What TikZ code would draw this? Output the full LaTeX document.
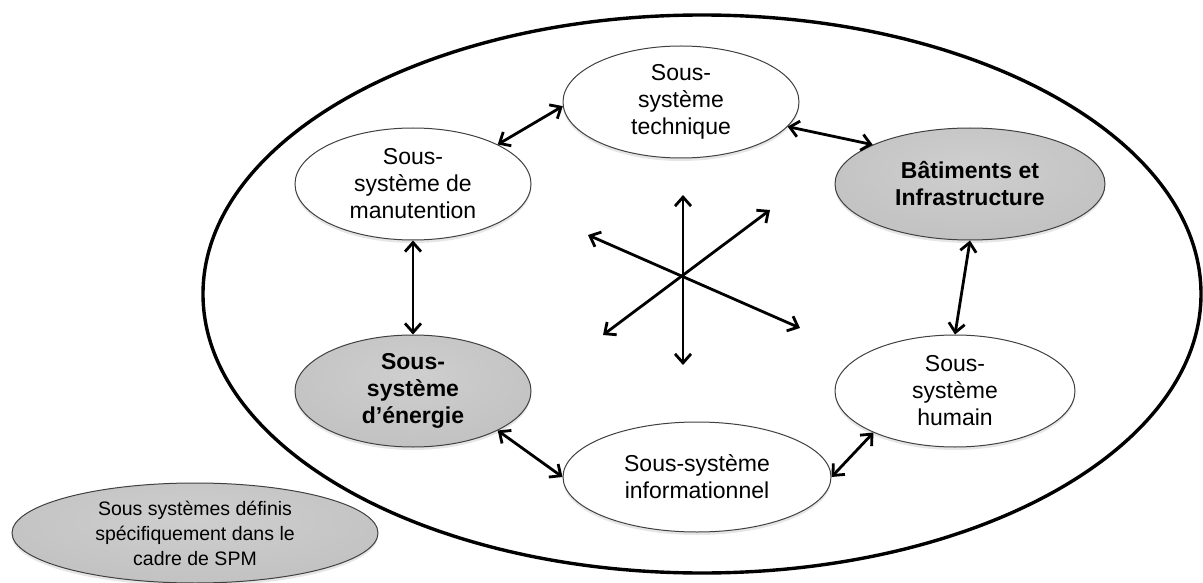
\documentclass[tikz,border=0pt]{standalone}
\usepackage{fontspec}
\setmainfont{Liberation Sans}
\usetikzlibrary{shapes,arrows.meta,shadows}

\pgfdeclareradialshading{softgray}{\pgfpoint{0bp}{8bp}}{color(0bp)=(gray!38); color(30bp)=(gray!48); color(50bp)=(gray!75); color(70bp)=(gray!75)}

\tikzset{
  sub/.style={ellipse, draw=black!75, line width=1pt, fill=white, align=center, inner sep=0pt,
    font=\fontsize{23}{27}\selectfont, minimum height=112pt,
    drop shadow={opacity=0.2, shadow xshift=0pt, shadow yshift=-3pt}},
  spm/.style={sub, shade, shading=softgray, font=\fontsize{23}{27}\selectfont\bfseries},
  link/.style={{Straight Barb[length=9pt,width=16pt]}-{Straight Barb[length=9pt,width=16pt]}, line width=2.8pt},
}

\begin{document}
\begin{tikzpicture}[x=1pt, y=-1pt]
    \useasboundingbox (0,0) rectangle (1203,583);

    % Outer boundary
    \draw[line width=3.4pt] (702,294) ellipse [x radius=499pt, y radius=279pt];

    % Sub-systems
    \node[sub, minimum width=236pt] (tech) at (681,102) {Sous-\\système\\technique};
    \node[sub, minimum width=236pt] (manu) at (413,184) {Sous-\\système de\\manutention};
    \node[spm, minimum width=270pt] (bat) at (970,184) {Bâtiments et\\Infrastructure};
    \node[spm, minimum width=236pt] (ener) at (413,391) {Sous-\\système\\d’énergie};
    \node[sub, minimum width=240pt] (hum) at (955,391) {Sous-\\système\\humain};
    \node[sub, minimum width=268pt, minimum height=110pt] (info) at (697,477) {Sous-système\\informationnel};

    % Links
    \draw[link] (tech.182) -- (manu.25);
    \draw[link] (tech.-13) -- (bat.158);
    \draw[link] (manu.south) -- (ener.north);
    \draw[link] (bat.south) -- (hum.north);
    \draw[link] (ener.-25) -- (info.west);
    \draw[link] (info.east) -- (hum.207);

    % Star
    \coordinate (n) at (683,195);
    \coordinate (s) at (683,365);
    \coordinate (nw) at (588,235);
    \coordinate (se) at (800,328);
    \coordinate (ne) at (770,210);
    \coordinate (sw) at (603,335);
    \draw[link] (n) -- (s);
    \draw[link] (nw) -- (se);
    \draw[link] (ne) -- (sw);

    % Legend
    \node[spm, minimum width=366pt, minimum height=100pt, font=\fontsize{19.5}{25}\selectfont] (legend) at (195,533) {Sous systèmes définis\\spécifiquement dans le\\cadre de SPM};
\end{tikzpicture}
\end{document}
